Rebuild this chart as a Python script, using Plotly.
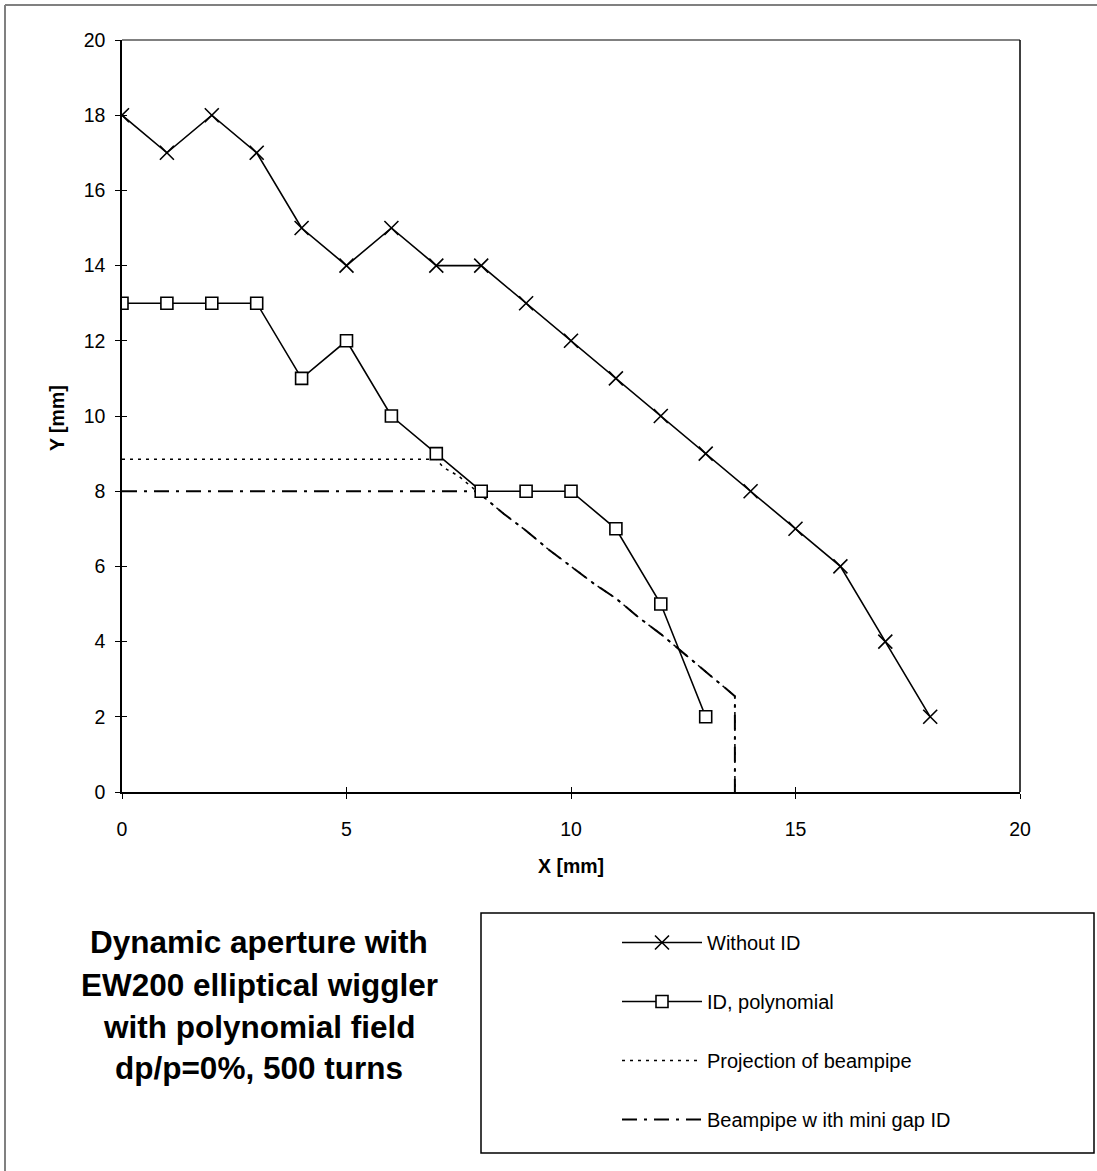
import plotly.graph_objects as go

# ---------------- data ----------------
x_without = [0, 1, 2, 3, 4, 5, 6, 7, 8, 9, 10, 11, 12, 13, 14, 15, 16, 17, 18]
y_without = [18, 17, 18, 17, 15, 14, 15, 14, 14, 13, 12, 11, 10, 9, 8, 7, 6, 4, 2]

x_id = [0, 1, 2, 3, 4, 5, 6, 7, 8, 9, 10, 11, 12, 13]
y_id = [13, 13, 13, 13, 11, 12, 10, 9, 8, 8, 8, 7, 5, 2]

x_proj = [0, 7.0, 7.15, 7.5, 8.0, 8.5, 9.0, 9.5, 10.0, 10.5, 11.0, 11.5, 12.0, 12.5, 13.0, 13.65, 13.65]
y_proj = [8.85, 8.85, 8.64, 8.4, 7.9, 7.4, 6.95, 6.45, 6.0, 5.55, 5.15, 4.65, 4.2, 3.7, 3.2, 2.55, 0]

x_gap = [0, 7.95, 8.0, 8.5, 9.0, 9.5, 10.0, 10.5, 11.0, 11.5, 12.0, 12.5, 13.0, 13.65, 13.65]
y_gap = [8.0, 8.0, 7.9, 7.4, 6.95, 6.45, 6.0, 5.55, 5.15, 4.65, 4.2, 3.7, 3.2, 2.55, 0]

title_lines = ["Dynamic aperture with", "EW200 elliptical wiggler",
               "with polynomial field", "dp/p=0%, 500 turns"]
names = ["Without ID", "ID, polynomial", "Projection of beampipe", "Beampipe w ith mini gap ID"]

# ---------------- layout helpers ----------------
W, H = 1097, 1171
ML, MR, MT, MB = 122, 77, 40, 379
PW, PH = W - ML - MR, H - MT - MB


def px(xp):
    return (xp - ML) / PW


def py(yp):
    return (MT + PH - yp) / PH


FONT = "Liberation Sans, Arial, sans-serif"

fig = go.Figure()

fig.add_trace(go.Scatter(
    x=x_proj, y=y_proj, mode="lines", name=names[2], legendgroup="g3",
    line=dict(color="black", width=1.5, dash="3px,5px"), legendrank=3))
fig.add_trace(go.Scatter(
    x=x_gap, y=y_gap, mode="lines", name=names[3], legendgroup="g4",
    line=dict(color="black", width=2, dash="15px,7px,3px,7px"), legendrank=4))
fig.add_trace(go.Scatter(
    x=x_without, y=y_without, mode="lines+markers", name=names[0], legendgroup="g1",
    line=dict(color="black", width=1.6),
    marker=dict(symbol="x-thin", size=14, color="black", line=dict(color="black", width=1.6)),
    legendrank=1))
fig.add_trace(go.Scatter(
    x=x_id, y=y_id, mode="lines+markers", name=names[1], legendgroup="g2",
    line=dict(color="black", width=1.6),
    marker=dict(symbol="square", size=12, color="white", line=dict(color="black", width=1.6)),
    legendrank=2))
# helper trace to activate the overlay axes (inside half of crossing ticks)
fig.add_trace(go.Scatter(x=[], y=[], xaxis="x2", yaxis="y2", showlegend=False, hoverinfo="skip"))

axis_common = dict(showgrid=False, zeroline=False, color="black",
                   tickfont=dict(family=FONT, size=19.5, color="black"))

fig.update_layout(
    width=W, height=H, autosize=False,
    margin=dict(l=ML, r=MR, t=MT, b=MB),
    paper_bgcolor="white", plot_bgcolor="white",
    font=dict(family=FONT, color="black"),
    showlegend=True,
    xaxis=dict(range=[0, 20], dtick=5, tick0=0, showline=True, linecolor="black", linewidth=1.5,
               ticks="outside", ticklen=5, tickwidth=1.2, tickcolor="black",
               ticklabelstandoff=14, **axis_common),
    yaxis=dict(range=[0, 20], dtick=2, tick0=0, showline=True, linecolor="black", linewidth=1.5,
               ticks="outside", ticklen=5, tickwidth=1.2, tickcolor="black",
               ticklabelstandoff=6, **axis_common),
    xaxis2=dict(overlaying="x", matches="x", anchor="y2", side="bottom", range=[0, 20], dtick=5,
                showticklabels=False, ticks="inside", ticklen=5, tickwidth=1.2, tickcolor="black",
                showline=False, showgrid=False, zeroline=False),
    yaxis2=dict(overlaying="y", matches="y", anchor="x2", side="left", range=[0, 20], dtick=2,
                showticklabels=False, ticks="inside", ticklen=5, tickwidth=1.2, tickcolor="black",
                showline=False, showgrid=False, zeroline=False),
    legend=dict(x=px(617), y=py(923), xanchor="left", yanchor="top",
                bgcolor="rgba(0,0,0,0)", borderwidth=0,
                font=dict(family=FONT, size=20, color="black"),
                itemwidth=80, tracegroupgap=30, traceorder="grouped",
                itemclick=False, itemdoubleclick=False),
)

# frame lines: top of plot area (grey), right of plot area (black), outer border (grey)
fig.add_shape(type="line", xref="paper", yref="paper", x0=0, x1=1, y0=1, y1=1,
              line=dict(color="#808080", width=2))
fig.add_shape(type="line", xref="paper", yref="paper", x0=1, x1=1, y0=0, y1=1,
              line=dict(color="black", width=1.5))
fig.add_shape(type="line", xref="paper", yref="paper", x0=px(5), x1=px(W + 5), y0=py(5), y1=py(5),
              line=dict(color="#808080", width=2))
fig.add_shape(type="line", xref="paper", yref="paper", x0=px(5), x1=px(5), y0=py(5), y1=py(H + 5),
              line=dict(color="#808080", width=2))
# legend box
fig.add_shape(type="rect", xref="paper", yref="paper", x0=px(481), x1=px(1094), y0=py(913), y1=py(1153),
              line=dict(color="black", width=1.5), fillcolor="rgba(0,0,0,0)")

# axis titles
fig.add_annotation(text="<b>X [mm]</b>", xref="paper", yref="paper", x=px(571), y=py(866),
                   xanchor="center", yanchor="middle", showarrow=False,
                   font=dict(family=FONT, size=19.5, color="black"))
fig.add_annotation(text="<b>Y [mm]</b>", xref="paper", yref="paper", x=px(57), y=py(418),
                   xanchor="center", yanchor="middle", showarrow=False, textangle=-90,
                   font=dict(family=FONT, size=19.5, color="black"))

# chart title block
for line, yc in zip(title_lines, [942, 985, 1027, 1068]):
    fig.add_annotation(text="<b>" + line + "</b>", xref="paper", yref="paper", x=px(259), y=py(yc),
                       xanchor="center", yanchor="middle", showarrow=False,
                       font=dict(family=FONT, size=31.5, color="black"))

fig.write_html("out.html")
